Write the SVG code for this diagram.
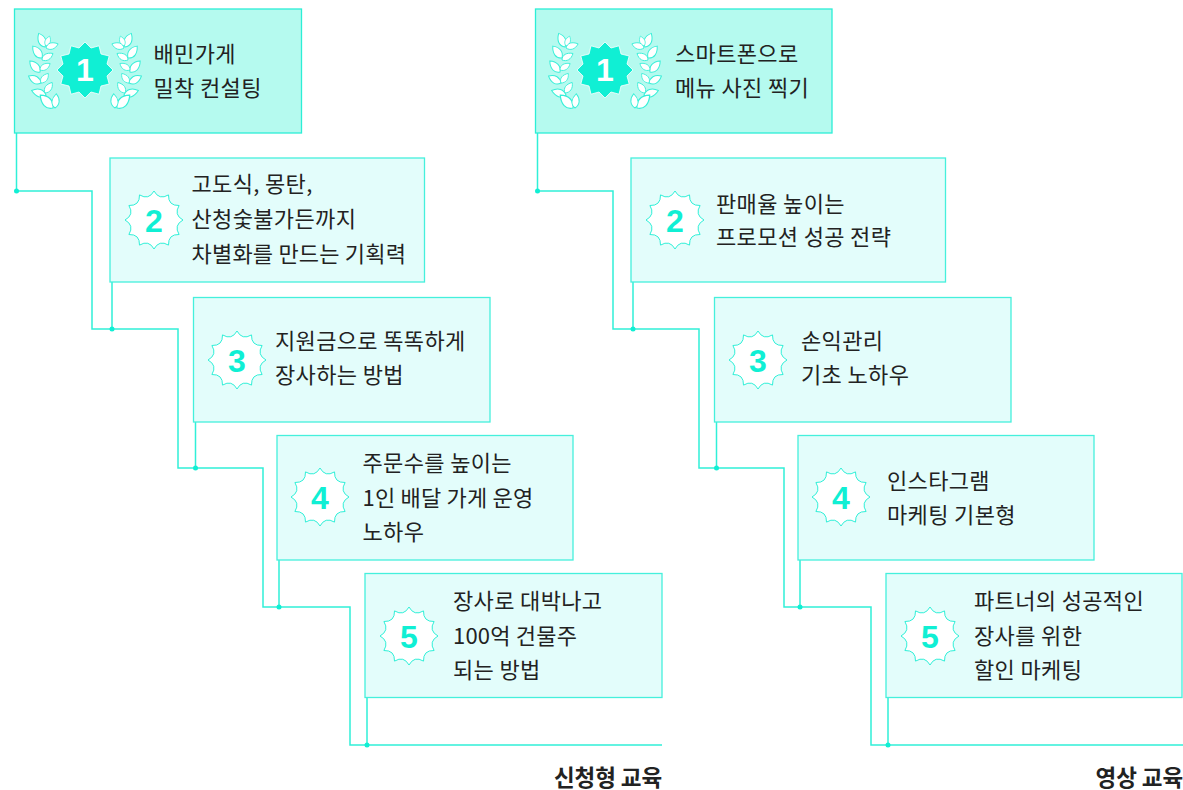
<svg xmlns="http://www.w3.org/2000/svg" xmlns:xlink="http://www.w3.org/1999/xlink" width="1183" height="790" viewBox="0 0 1183 790">
<style>
.box{fill:#e3fdfb;stroke:#45f0dc;stroke-width:1.3}
.first{fill:#b5faef;stroke:#2ceed6}
.t{font-family:"Noto Sans CJK KR","Noto Sans",sans-serif;font-size:22px;fill:#222;letter-spacing:.35px}
.tight{letter-spacing:.2px}
.c{font-family:"Noto Sans CJK KR","Noto Sans",sans-serif;font-size:22.500px;font-weight:700;fill:#222;text-anchor:end;letter-spacing:-.1px}
.n{font-family:"Liberation Sans",sans-serif;font-size:32px;font-weight:700;fill:#10efd4;text-anchor:middle}
.n.w{fill:#fff}
.line{fill:none;stroke:#30f0d8;stroke-width:1.5}
.dot{fill:#10efd4}
.fs{fill:#10efd4;stroke:#fff;stroke-width:.8}
.star{fill:#fff;stroke:#30f0d8;stroke-width:1}
.leaf{fill:#fff;stroke:#38efd8;stroke-width:1}
</style>
<defs>
<path id="s" d="M0,-29Q5.200,-19.500 14.500,-25.100Q14.100,-14.100 25.100,-14.500Q19.500,-5.200 29,0Q19.500,5.200 25.100,14.500Q14.100,14.100 14.500,25.100Q5.200,19.500 0,29Q-5.200,19.500 -14.500,25.100Q-14.100,14.100 -25.100,14.500Q-19.500,5.200 -29,0Q-19.500,-5.200 -25.100,-14.500Q-14.100,-14.100 -14.500,-25.100Q-5.200,-19.500 0,-29Z"/>
<polygon id="f" points="0,-28 6,-22 14,-24.200 16,-16 24.200,-14 22,-6 28,0 22,6 24.200,14 16,16 14,24.200 6,22 0,28 -6,22 -14,24.200 -16,16 -24.200,14 -22,6 -28,0 -22,-6 -24.200,-14 -16,-16 -14,-24.200 -6,-22"/>
<path id="l" d="M0,0C3,-5.500 9,-5.500 15,-1C10,4.500 4,4.500 0,0Z"/>
<g id="sprig" class="leaf">
<use href="#l" transform="translate(45,47) rotate(-111)"/>
<use href="#l" transform="translate(46,46) rotate(-66) scale(.7)"/>
<use href="#l" transform="translate(46,48) rotate(-15) scale(.85)"/>
<use href="#l" transform="translate(42,58) rotate(-124)"/>
<use href="#l" transform="translate(42,60) rotate(-27) scale(.85)"/>
<use href="#l" transform="translate(40,72) rotate(-129)"/>
<use href="#l" transform="translate(40,70) rotate(-29) scale(.8)"/>
<use href="#l" transform="translate(41,83) rotate(-147) scale(.95)"/>
<use href="#l" transform="translate(41,83) rotate(-49) scale(.8)"/>
<use href="#l" transform="translate(46,95) rotate(-159)"/>
<use href="#l" transform="translate(45,93) rotate(-52) scale(.85)"/>
<use href="#l" transform="translate(53,108) rotate(-131) scale(1.2)"/>
<use href="#l" transform="translate(55,108) rotate(-81) scale(.95)"/>
</g>
<g id="wreath">
<use href="#sprig"/>
<use href="#sprig" transform="translate(170,0) scale(-1,1)"/>
</g>
</defs>
<g id="connectors" class="line">
<path d="M16.500,133V191H92V329H178V468H263V607H350V745H662"/>
<path d="M112,282V329M195.500,422V468M279,560V607M367,697V745"/>
<path d="M537.500,133V191H613V329H699V468H784V607H871V745H1183"/>
<path d="M633,282V329M716.500,422V468M800,560V607M888,697V745"/>
</g>
<g id="dots" class="dot">
<circle cx="16.500" cy="191" r="2.500"/><circle cx="112" cy="329" r="2.500"/><circle cx="195.500" cy="468" r="2.500"/><circle cx="279" cy="607" r="2.500"/><circle cx="367" cy="745" r="2.500"/>
<circle cx="537.500" cy="191" r="2.500"/><circle cx="633" cy="329" r="2.500"/><circle cx="716.500" cy="468" r="2.500"/><circle cx="800" cy="607" r="2.500"/><circle cx="888" cy="745" r="2.500"/>
</g>
<g id="left-1"><rect class="box first" x="14.500" y="9" width="287" height="124"/><use href="#wreath"/><use href="#f" x="85" y="70" class="fs"/><text class="n w" x="85" y="81">1</text><text class="t" x="153.500" y="62">배민가게</text><text class="t" x="153.500" y="96">밀착 컨설팅</text></g>
<g id="left-2"><rect class="box" x="110" y="158" width="314.500" height="124"/><use href="#s" x="154" y="220" class="star"/><text class="n" x="154" y="231.500">2</text><text class="t" x="191.500" y="192">고도식, 몽탄,</text><text class="t" x="191.500" y="227">산청숯불가든까지</text><text class="t tight" x="191.500" y="262">차별화를 만드는 기획력</text></g>
<g id="left-3"><rect class="box" x="193.500" y="297.500" width="296.500" height="124.500"/><use href="#s" x="237" y="360" class="star"/><text class="n" x="237" y="371.500">3</text><text class="t" x="275" y="349">지원금으로 똑똑하게</text><text class="t" x="275" y="383">장사하는 방법</text></g>
<g id="left-4"><rect class="box" x="277" y="435.500" width="296" height="124.500"/><use href="#s" x="320" y="497" class="star"/><text class="n" x="320" y="508.500">4</text><text class="t" x="362.500" y="471">주문수를 높이는</text><text class="t tight" x="362.500" y="506">1인 배달 가게 운영</text><text class="t" x="362.500" y="540">노하우</text></g>
<g id="left-5"><rect class="box" x="365" y="573.500" width="297" height="124"/><use href="#s" x="409" y="636" class="star"/><text class="n" x="409" y="647.500">5</text><text class="t" x="453" y="609">장사로 대박나고</text><text class="t tight" x="453" y="644">100억 건물주</text><text class="t" x="453" y="678">되는 방법</text></g>
<g id="right-1"><rect class="box first" x="535.500" y="9" width="296.500" height="124"/><use href="#wreath" x="520"/><use href="#f" x="605" y="70" class="fs"/><text class="n w" x="605" y="81">1</text><text class="t" x="675" y="62">스마트폰으로</text><text class="t" x="675" y="96">메뉴 사진 찍기</text></g>
<g id="right-2"><rect class="box" x="631" y="158" width="314.500" height="124"/><use href="#s" x="675" y="220" class="star"/><text class="n" x="675" y="231.500">2</text><text class="t" x="716" y="211.500">판매율 높이는</text><text class="t" x="716" y="245">프로모션 성공 전략</text></g>
<g id="right-3"><rect class="box" x="714.500" y="297.500" width="296.500" height="124.500"/><use href="#s" x="758" y="360" class="star"/><text class="n" x="758" y="371.500">3</text><text class="t" x="801" y="349">손익관리</text><text class="t" x="801" y="383">기초 노하우</text></g>
<g id="right-4"><rect class="box" x="798" y="435.500" width="296" height="124.500"/><use href="#s" x="841" y="497" class="star"/><text class="n" x="841" y="508.500">4</text><text class="t" x="887" y="489">인스타그램</text><text class="t" x="887" y="523">마케팅 기본형</text></g>
<g id="right-5"><rect class="box" x="886" y="573.500" width="296" height="124"/><use href="#s" x="930" y="636" class="star"/><text class="n" x="930" y="647.500">5</text><text class="t" x="974" y="609">파트너의 성공적인</text><text class="t" x="974" y="644">장사를 위한</text><text class="t" x="974" y="678">할인 마케팅</text></g>
<text class="c" x="662" y="786">신청형 교육</text>
<text class="c" x="1183" y="786">영상 교육</text>
</svg>
